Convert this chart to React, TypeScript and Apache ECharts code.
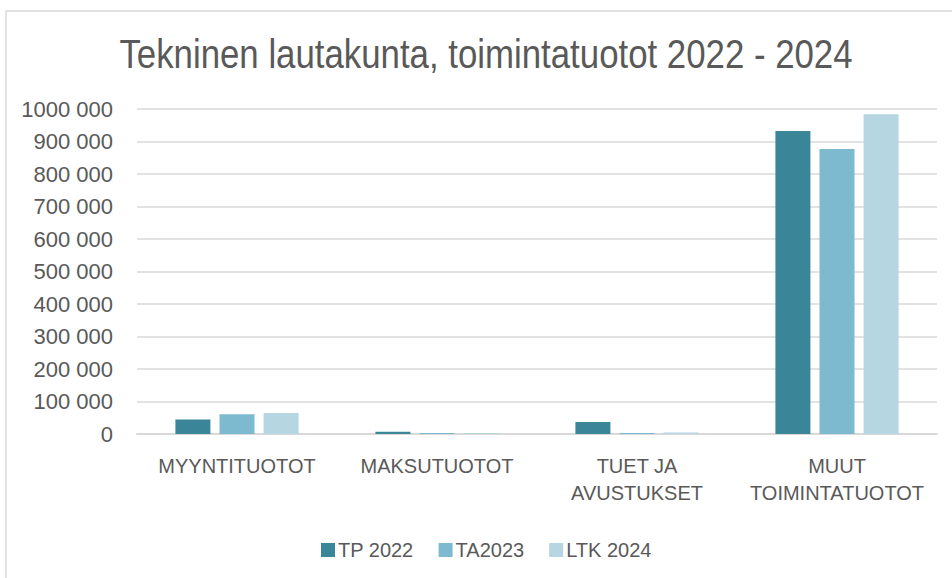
import React, { useEffect, useRef } from "react";
import * as echarts from "echarts";

const categories = ["MYYNTITUOTOT", "MAKSUTUOTOT", "TUET JA\nAVUSTUKSET", "MUUT\nTOIMINTATUOTOT"];
const seriesNames = ["TP 2022", "TA2023", "LTK 2024"];
const tp2022 = [45000, 7000, 37000, 932000];
const ta2023 = [61000, 3000, 3000, 877000];
const ltk2024 = [65000, 3000, 5000, 984000];
const yTickLabels = ["0", "100 000", "200 000", "300 000", "400 000", "500 000", "600 000", "700 000", "800 000", "900 000", "1000 000"];
const titleText = "Tekninen lautakunta, toimintatuotot 2022 - 2024";
const colors = ["#3A8698", "#7EBACF", "#B6D6E1"];

const TEXT = "#595959";
const FONT = "'Liberation Sans', Arial, sans-serif";

export default function App() {
  const ref = useRef<HTMLDivElement>(null);
  useEffect(() => {
    if (!ref.current) return;
    const chart = echarts.init(ref.current, undefined, { renderer: "svg" });
    const data = [tp2022, ta2023, ltk2024];
    chart.setOption({
      animation: false,
      backgroundColor: "#ffffff",
      graphic: [
        {
          type: "rect",
          shape: { x: 6, y: 11, width: 1000, height: 700 },
          style: { fill: "none", stroke: "#d9d9d9", lineWidth: 1.5 },
          silent: true,
          z: -1,
        },
        {
          type: "text",
          x: 486,
          y: 34,
          scaleX: 0.87,
          style: {
            text: titleText,
            font: "normal 40px 'Liberation Sans', Arial, sans-serif",
            fill: TEXT,
            textAlign: "center",
            textVerticalAlign: "top",
          },
          silent: true,
        },
      ],
      legend: {
        data: seriesNames,
        left: 316,
        top: 535,
        itemWidth: 14,
        itemHeight: 14,
        itemGap: 25,
        icon: "rect",
        textStyle: { fontFamily: FONT, fontSize: 20, color: TEXT, padding: [0, 0, 0, -2] },
      },
      grid: { left: 137, right: 15, top: 109, bottom: 144, containLabel: false },
      xAxis: {
        type: "category",
        data: categories,
        axisLine: { lineStyle: { color: "#d9d9d9", width: 2 } },
        axisTick: { show: false },
        axisLabel: {
          fontFamily: FONT,
          fontSize: 20,
          color: TEXT,
          margin: 18,
          lineHeight: 27,
          interval: 0,
        },
      },
      yAxis: {
        type: "value",
        min: 0,
        max: 1000000,
        interval: 100000,
        axisLine: { show: false },
        axisTick: { show: false },
        splitLine: { lineStyle: { color: "#d9d9d9", width: 1.5 } },
        axisLabel: {
          fontFamily: FONT,
          fontSize: 22,
          color: TEXT,
          margin: 24,
          formatter: (v: number) => yTickLabels[Math.round(v / 100000)],
        },
      },
      series: seriesNames.map((name, i) => ({
        name,
        type: "bar",
        data: data[i],
        barWidth: 35,
        barGap: "26%",
        itemStyle: { color: colors[i] },
      })),
    });
    return () => chart.dispose();
  }, []);
  return (
    <div
      ref={ref}
      style={{ position: "fixed", left: 0, top: 0, width: 952, height: 578 }}
    />
  );
}
